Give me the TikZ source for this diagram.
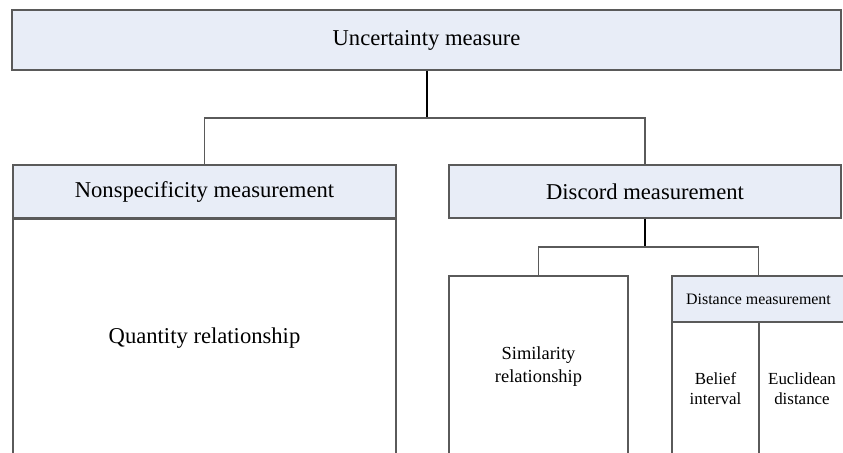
\documentclass[tikz,border=0pt]{standalone}
\usepackage{fontspec}
\setmainfont{Liberation Serif}
\definecolor{headfill}{HTML}{E8EDF7}
\definecolor{boxline}{HTML}{5A5A5A}
\begin{document}
\begin{tikzpicture}[x=1bp,y=-1bp,
  box/.style={draw=boxline,line width=1.3bp,rectangle,inner sep=0pt,align=center},
  head/.style={box,fill=headfill},
  big/.style={font=\fontsize{22.7}{27}\selectfont},
  mid/.style={font=\fontsize{18.5}{23}\selectfont},
  small/.style={font=\fontsize{17}{20}\selectfont},
  tiny/.style={font=\fontsize{16}{19}\selectfont},
  trunk/.style={draw=black,line width=2bp},
  branch/.style={draw=boxline,line width=1.3bp}]
\useasboundingbox (0,0) rectangle (843,453);
\clip (0,0) rectangle (843,453);

% root
\node[head,big,minimum width=829bp,minimum height=60bp] (root) at (426.5,40) {Uncertainty measure};

% first level
\node[head,big,minimum width=383bp,minimum height=53bp] (ns) at (204.5,191.5) {Nonspecificity measurement};
\node[box,big,minimum width=383bp,minimum height=238bp,anchor=north] (qr) at (ns.south) {Quantity relationship};
\node[head,big,minimum width=392bp,minimum height=53bp] (dc) at (645,191.5) {Discord measurement};

% second level under discord
\node[box,mid,minimum width=179bp,minimum height=182bp] (sim) at (538.5,367) {Similarity\\relationship};
\node[head,tiny,minimum width=173bp,minimum height=46bp] (dist) at (758.5,299) {Distance measurement};
\node[box,small,minimum width=87bp,minimum height=134bp] (bel) at (715.5,389) {Belief\\interval};
\node[box,small,minimum width=86bp,minimum height=134bp] (euc) at (802,389) {Euclidean\\distance};

% connectors
\coordinate (j1) at (426.5,118);
\coordinate (j2) at (645,247);
\draw[trunk] (root.south) -- (j1);
\draw[branch] (ns.north) |- (j1) -| (dc.north);
\draw[trunk] (dc.south) -- (j2);
\draw[branch] (sim.north) |- (j2) -| (dist.north);
\end{tikzpicture}
\end{document}
